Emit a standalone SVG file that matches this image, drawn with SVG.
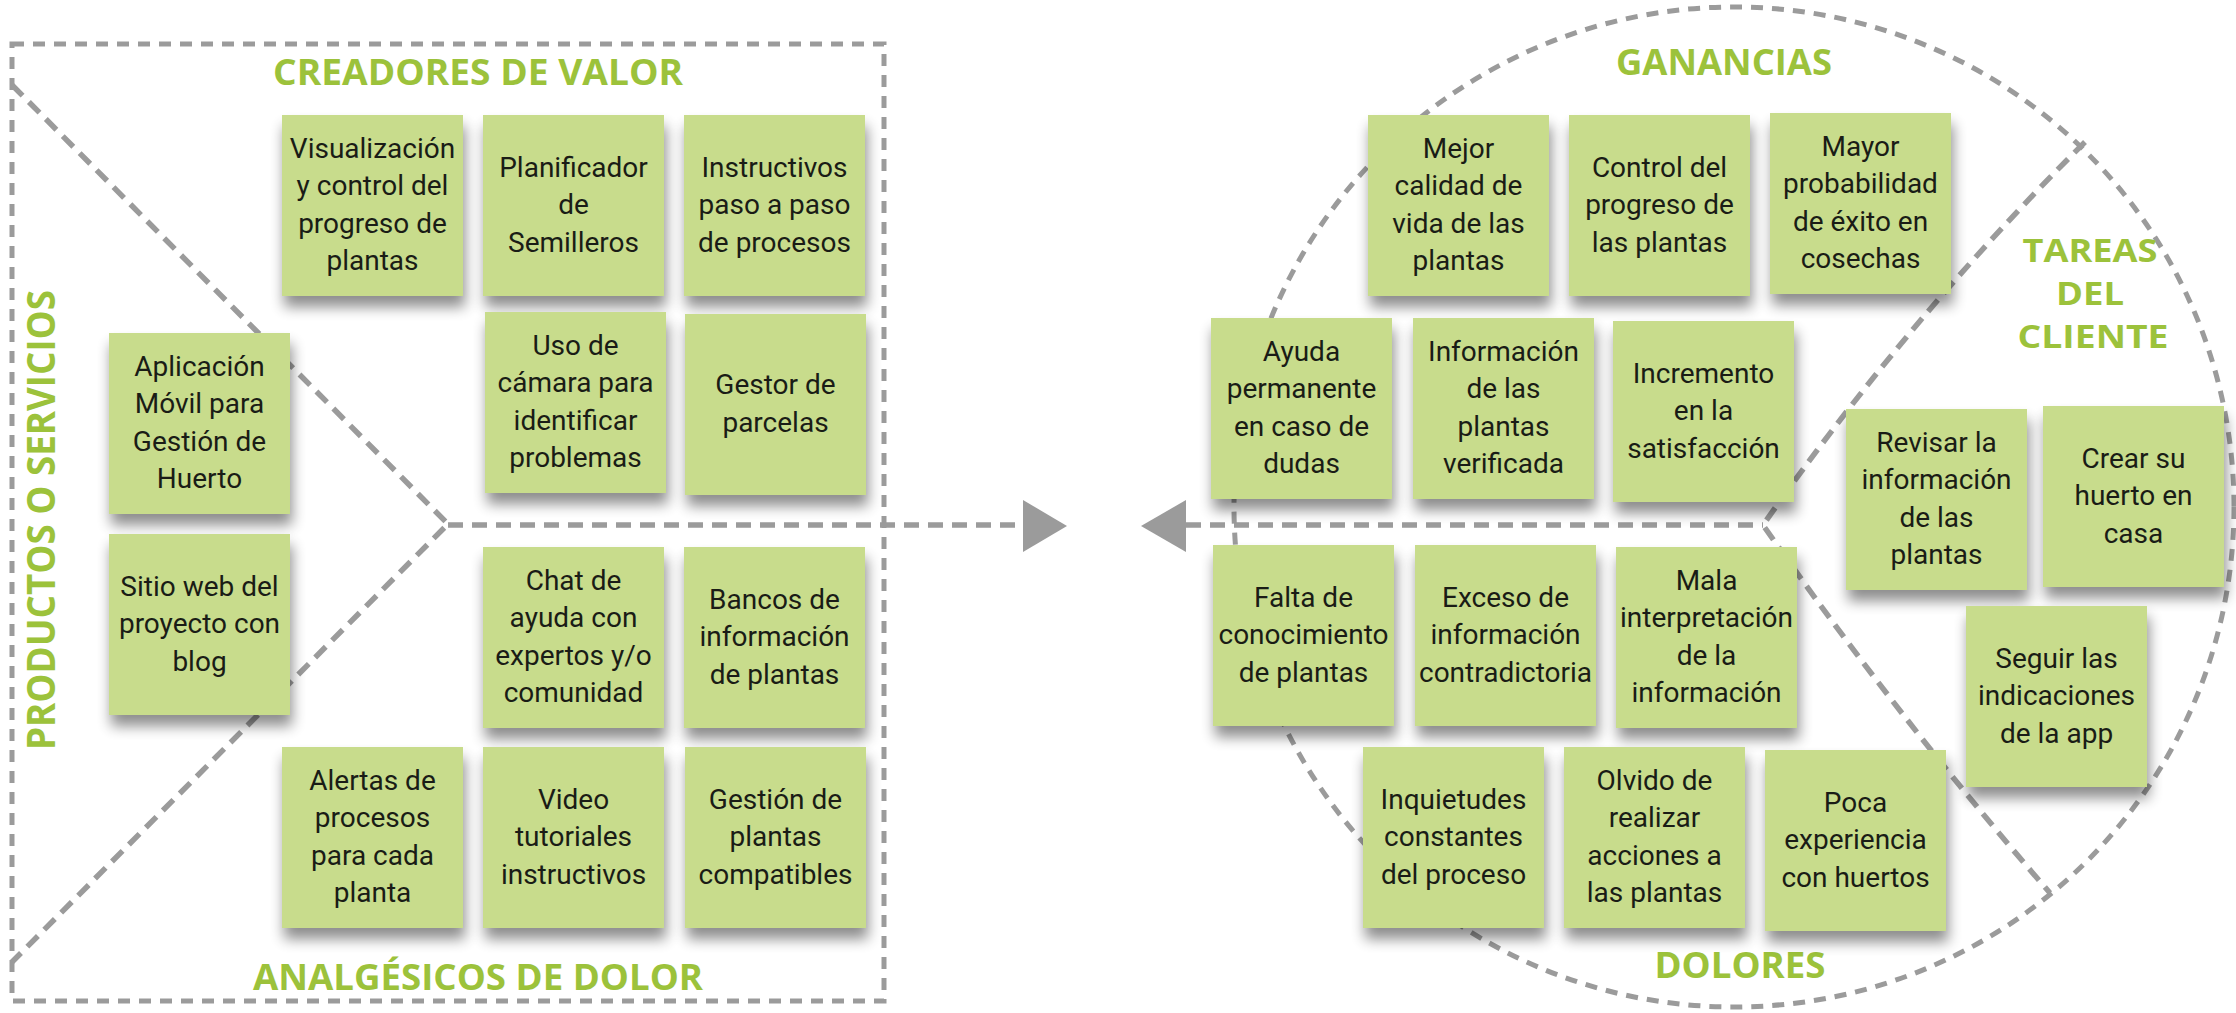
<svg xmlns="http://www.w3.org/2000/svg" width="2236" height="1013" viewBox="0 0 2236 1013">
<style>
.bg{fill:#ffffff}
.dash{fill:none;stroke:#9b9b9b;stroke-width:5;stroke-dasharray:12 9}
.dl{fill:none;stroke:#9b9b9b;stroke-width:5.5;stroke-dasharray:15 9}
.arrow{fill:#9b9b9b}
.note rect{fill:#c8dc8c;filter:url(#sh)}
.note text{font-family:Roboto,"Liberation Sans",sans-serif;font-size:28px;fill:#1a1c16;text-anchor:middle}
.hd{font-family:"Open Sans","Liberation Sans",sans-serif;font-weight:700;font-size:35px;fill:#9cc23b;text-anchor:middle}
.tc{font-size:32px}
</style>
<defs>
<filter id="sh" x="-20%" y="-20%" width="140%" height="150%">
<feGaussianBlur in="SourceAlpha" stdDeviation="7"/>
<feOffset dx="2" dy="11" result="b"/>
<feComponentTransfer><feFuncA type="linear" slope="0.45"/></feComponentTransfer>
<feMerge><feMergeNode/><feMergeNode in="SourceGraphic"/></feMerge>
</filter>
</defs>
<rect class="bg" x="0" y="0" width="2236" height="1013"/>

<g id="connectors">
<rect class="dash" x="12" y="44" width="872" height="957"/>
<polyline class="dl" points="12,85 448,524 12,962"/>
<line class="dl" x1="448" y1="525" x2="1023" y2="525"/>
<polygon class="arrow" points="1023,500 1067,526 1023,552"/>
<circle class="dash" cx="1734" cy="507" r="500"/>
<path class="dl" d="M2085,142 Q1908,318 1763,525 Q1898,718 2050,893"/>
<line class="dl" x1="1186" y1="525" x2="1763" y2="525"/>
<polygon class="arrow" points="1186,500 1141,526 1186,552"/>
</g>

<g id="labels">
<text class="hd" x="478" y="85" textLength="410" lengthAdjust="spacingAndGlyphs">CREADORES DE VALOR</text>
<text class="hd" x="478" y="990" textLength="450" lengthAdjust="spacingAndGlyphs">ANALGÉSICOS DE DOLOR</text>
<text class="hd" x="1724" y="75" textLength="216" lengthAdjust="spacingAndGlyphs">GANANCIAS</text>
<text class="hd" x="1740" y="978" textLength="171" lengthAdjust="spacingAndGlyphs">DOLORES</text>
<text class="hd tc" x="2090" y="262" textLength="135" lengthAdjust="spacingAndGlyphs">TAREAS</text>
<text class="hd tc" x="2090" y="305" textLength="68" lengthAdjust="spacingAndGlyphs">DEL</text>
<text class="hd tc" x="2093" y="348" textLength="151" lengthAdjust="spacingAndGlyphs">CLIENTE</text>
<text class="hd" style="font-size:40px" transform="translate(55,520) rotate(-90)" x="0" y="0" textLength="460" lengthAdjust="spacingAndGlyphs">PRODUCTOS O SERVICIOS</text>
</g>

<g id="n1" class="note"><rect x="282" y="115" width="181" height="181"/><text x="372.5" y="157.75"><tspan x="372.5">Visualización</tspan><tspan x="372.5" dy="37.5">y control del</tspan><tspan x="372.5" dy="37.5">progreso de</tspan><tspan x="372.5" dy="37.5">plantas</tspan></text></g>
<g id="n2" class="note"><rect x="483" y="115" width="181" height="181"/><text x="573.5" y="176.5"><tspan x="573.5">Planificador</tspan><tspan x="573.5" dy="37.5">de</tspan><tspan x="573.5" dy="37.5">Semilleros</tspan></text></g>
<g id="n3" class="note"><rect x="684" y="115" width="181" height="181"/><text x="774.5" y="176.5"><tspan x="774.5">Instructivos</tspan><tspan x="774.5" dy="37.5">paso a paso</tspan><tspan x="774.5" dy="37.5">de procesos</tspan></text></g>
<g id="n4" class="note"><rect x="485" y="312" width="181" height="181"/><text x="575.5" y="354.75"><tspan x="575.5">Uso de</tspan><tspan x="575.5" dy="37.5">cámara para</tspan><tspan x="575.5" dy="37.5">identificar</tspan><tspan x="575.5" dy="37.5">problemas</tspan></text></g>
<g id="n5" class="note"><rect x="685" y="314" width="181" height="181"/><text x="775.5" y="394.25"><tspan x="775.5">Gestor de</tspan><tspan x="775.5" dy="37.5">parcelas</tspan></text></g>
<g id="n6" class="note"><rect x="109" y="333" width="181" height="181"/><text x="199.5" y="375.75"><tspan x="199.5">Aplicación</tspan><tspan x="199.5" dy="37.5">Móvil para</tspan><tspan x="199.5" dy="37.5">Gestión de</tspan><tspan x="199.5" dy="37.5">Huerto</tspan></text></g>
<g id="n7" class="note"><rect x="109" y="534" width="181" height="181"/><text x="199.5" y="595.5"><tspan x="199.5">Sitio web del</tspan><tspan x="199.5" dy="37.5">proyecto con</tspan><tspan x="199.5" dy="37.5">blog</tspan></text></g>
<g id="n8" class="note"><rect x="483" y="547" width="181" height="181"/><text x="573.5" y="589.75"><tspan x="573.5">Chat de</tspan><tspan x="573.5" dy="37.5">ayuda con</tspan><tspan x="573.5" dy="37.5">expertos y/o</tspan><tspan x="573.5" dy="37.5">comunidad</tspan></text></g>
<g id="n9" class="note"><rect x="684" y="547" width="181" height="181"/><text x="774.5" y="608.5"><tspan x="774.5">Bancos de</tspan><tspan x="774.5" dy="37.5">información</tspan><tspan x="774.5" dy="37.5">de plantas</tspan></text></g>
<g id="n10" class="note"><rect x="282" y="747" width="181" height="181"/><text x="372.5" y="789.75"><tspan x="372.5">Alertas de</tspan><tspan x="372.5" dy="37.5">procesos</tspan><tspan x="372.5" dy="37.5">para cada</tspan><tspan x="372.5" dy="37.5">planta</tspan></text></g>
<g id="n11" class="note"><rect x="483" y="747" width="181" height="181"/><text x="573.5" y="808.5"><tspan x="573.5">Video</tspan><tspan x="573.5" dy="37.5">tutoriales</tspan><tspan x="573.5" dy="37.5">instructivos</tspan></text></g>
<g id="n12" class="note"><rect x="685" y="747" width="181" height="181"/><text x="775.5" y="808.5"><tspan x="775.5">Gestión de</tspan><tspan x="775.5" dy="37.5">plantas</tspan><tspan x="775.5" dy="37.5">compatibles</tspan></text></g>

<g id="n13" class="note"><rect x="1368" y="115" width="181" height="181"/><text x="1458.5" y="157.75"><tspan x="1458.5">Mejor</tspan><tspan x="1458.5" dy="37.5">calidad de</tspan><tspan x="1458.5" dy="37.5">vida de las</tspan><tspan x="1458.5" dy="37.5">plantas</tspan></text></g>
<g id="n14" class="note"><rect x="1569" y="115" width="181" height="181"/><text x="1659.5" y="176.5"><tspan x="1659.5">Control del</tspan><tspan x="1659.5" dy="37.5">progreso de</tspan><tspan x="1659.5" dy="37.5">las plantas</tspan></text></g>
<g id="n15" class="note"><rect x="1770" y="113" width="181" height="181"/><text x="1860.5" y="155.75"><tspan x="1860.5">Mayor</tspan><tspan x="1860.5" dy="37.5">probabilidad</tspan><tspan x="1860.5" dy="37.5">de éxito en</tspan><tspan x="1860.5" dy="37.5">cosechas</tspan></text></g>
<g id="n16" class="note"><rect x="1211" y="318" width="181" height="181"/><text x="1301.5" y="360.75"><tspan x="1301.5">Ayuda</tspan><tspan x="1301.5" dy="37.5">permanente</tspan><tspan x="1301.5" dy="37.5">en caso de</tspan><tspan x="1301.5" dy="37.5">dudas</tspan></text></g>
<g id="n17" class="note"><rect x="1413" y="318" width="181" height="181"/><text x="1503.5" y="360.75"><tspan x="1503.5">Información</tspan><tspan x="1503.5" dy="37.5">de las</tspan><tspan x="1503.5" dy="37.5">plantas</tspan><tspan x="1503.5" dy="37.5">verificada</tspan></text></g>
<g id="n18" class="note"><rect x="1613" y="321" width="181" height="181"/><text x="1703.5" y="382.5"><tspan x="1703.5">Incremento</tspan><tspan x="1703.5" dy="37.5">en la</tspan><tspan x="1703.5" dy="37.5">satisfacción</tspan></text></g>
<g id="n19" class="note"><rect x="1846" y="409" width="181" height="181"/><text x="1936.5" y="451.75"><tspan x="1936.5">Revisar la</tspan><tspan x="1936.5" dy="37.5">información</tspan><tspan x="1936.5" dy="37.5">de las</tspan><tspan x="1936.5" dy="37.5">plantas</tspan></text></g>
<g id="n20" class="note"><rect x="2043" y="406" width="181" height="181"/><text x="2133.5" y="467.5"><tspan x="2133.5">Crear su</tspan><tspan x="2133.5" dy="37.5">huerto en</tspan><tspan x="2133.5" dy="37.5">casa</tspan></text></g>
<g id="n21" class="note"><rect x="1966" y="606" width="181" height="181"/><text x="2056.5" y="667.5"><tspan x="2056.5">Seguir las</tspan><tspan x="2056.5" dy="37.5">indicaciones</tspan><tspan x="2056.5" dy="37.5">de la app</tspan></text></g>
<g id="n22" class="note"><rect x="1213" y="545" width="181" height="181"/><text x="1303.5" y="606.5"><tspan x="1303.5">Falta de</tspan><tspan x="1303.5" dy="37.5">conocimiento</tspan><tspan x="1303.5" dy="37.5">de plantas</tspan></text></g>
<g id="n23" class="note"><rect x="1415" y="545" width="181" height="181"/><text x="1505.5" y="606.5"><tspan x="1505.5">Exceso de</tspan><tspan x="1505.5" dy="37.5">información</tspan><tspan x="1505.5" dy="37.5">contradictoria</tspan></text></g>
<g id="n24" class="note"><rect x="1616" y="547" width="181" height="181"/><text x="1706.5" y="589.75"><tspan x="1706.5">Mala</tspan><tspan x="1706.5" dy="37.5">interpretación</tspan><tspan x="1706.5" dy="37.5">de la</tspan><tspan x="1706.5" dy="37.5">información</tspan></text></g>
<g id="n25" class="note"><rect x="1363" y="747" width="181" height="181"/><text x="1453.5" y="808.5"><tspan x="1453.5">Inquietudes</tspan><tspan x="1453.5" dy="37.5">constantes</tspan><tspan x="1453.5" dy="37.5">del proceso</tspan></text></g>
<g id="n26" class="note"><rect x="1564" y="747" width="181" height="181"/><text x="1654.5" y="789.75"><tspan x="1654.5">Olvido de</tspan><tspan x="1654.5" dy="37.5">realizar</tspan><tspan x="1654.5" dy="37.5">acciones a</tspan><tspan x="1654.5" dy="37.5">las plantas</tspan></text></g>
<g id="n27" class="note"><rect x="1765" y="750" width="181" height="181"/><text x="1855.5" y="811.5"><tspan x="1855.5">Poca</tspan><tspan x="1855.5" dy="37.5">experiencia</tspan><tspan x="1855.5" dy="37.5">con huertos</tspan></text></g>
</svg>
